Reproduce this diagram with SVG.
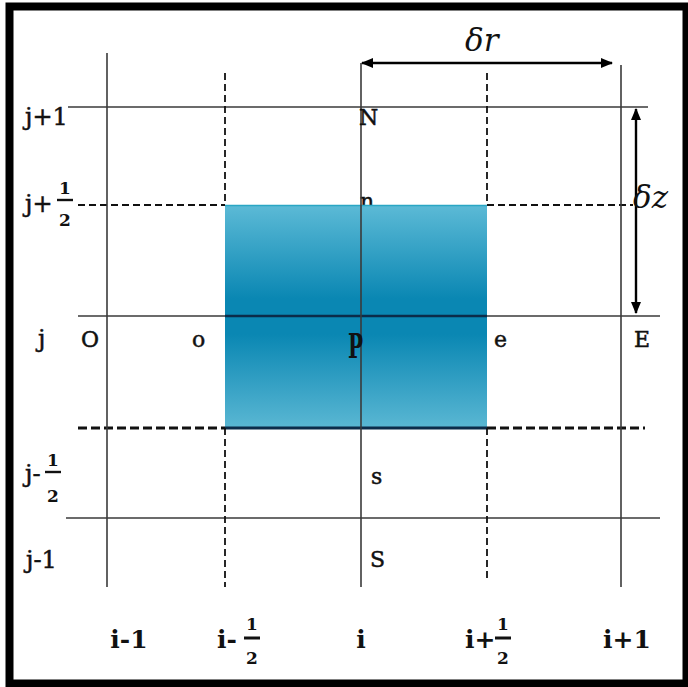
<svg xmlns="http://www.w3.org/2000/svg" width="688" height="687" viewBox="0 0 688 687">
<defs>
<linearGradient id="cell" x1="0" y1="0" x2="0" y2="1">
<stop offset="0" stop-color="#5cbad6"/>
<stop offset="0.42" stop-color="#0a87b3"/>
<stop offset="0.58" stop-color="#0a87b3"/>
<stop offset="1" stop-color="#5ab7d3"/>
</linearGradient>
<marker id="ah" viewBox="0 0 12 10" refX="11" refY="5" markerWidth="12" markerHeight="10" markerUnits="userSpaceOnUse" orient="auto-start-reverse">
<path d="M0,0 L12,5 L0,10 Z" fill="#000"/>
</marker>
<style>
.grid{stroke:#3a3a3a;stroke-width:1.6;fill:none}
.dash{stroke:#111;stroke-width:1.8;stroke-dasharray:7 4;fill:none}
.dashb{stroke:#111;stroke-width:3;stroke-dasharray:9 4;fill:none}
.dim{stroke:#000;stroke-width:2.4;fill:none}
.lbl{font-family:"DejaVu Serif","Liberation Serif",serif;font-size:24px;fill:#111;stroke:#111;stroke-width:0.5}
.pt{font-family:"DejaVu Serif","Liberation Serif",serif;font-size:22px;fill:#111;stroke:#111;stroke-width:0.5}
.bot{font-family:"DejaVu Serif","Liberation Serif",serif;font-size:25px;font-weight:bold;fill:#111}
.frac{font-family:"DejaVu Serif","Liberation Serif",serif;font-size:17px;font-weight:bold;fill:#111;text-anchor:middle}
.it{font-family:"DejaVu Serif","Liberation Serif",serif;font-size:31px;font-style:italic;fill:#111}
</style>
</defs>
<rect x="0" y="0" width="688" height="687" fill="#fff"/>
<rect x="9.5" y="6.5" width="677" height="677" fill="none" stroke="#000" stroke-width="8"/>

<g id="node-n"><text class="pt" x="360" y="209">n</text></g>

<g id="cell-P">
<rect x="225" y="205" width="262" height="223" fill="url(#cell)"/>
<line x1="225" y1="205.5" x2="487" y2="205.5" stroke="#2aa6c4" stroke-width="1.5"/>
</g>

<g id="connectors">
<line class="grid" x1="68" y1="107" x2="648" y2="107"/>
<line class="grid" x1="78" y1="316" x2="660" y2="316"/>
<line x1="225" y1="316" x2="487" y2="316" stroke="#0b2c4a" stroke-width="2.6"/>
<line class="grid" x1="66" y1="518" x2="660" y2="518"/>
<line class="dash" x1="78" y1="205" x2="225" y2="205"/>
<line class="dash" x1="487" y1="205" x2="633" y2="205"/>
<line class="dashb" x1="78" y1="428" x2="225" y2="428"/>
<line x1="225" y1="428" x2="487" y2="428" stroke="#0b2c4a" stroke-width="3"/>
<line class="dashb" x1="487" y1="428" x2="645" y2="428"/>
<line class="grid" x1="107" y1="53" x2="107" y2="587"/>
<line class="grid" x1="361" y1="63" x2="361" y2="587" stroke="#111"/>
<line class="grid" x1="621" y1="65" x2="621" y2="587"/>
<line class="dash" x1="225" y1="73" x2="225" y2="205"/>
<line class="dash" x1="225" y1="428" x2="225" y2="587"/>
<line class="dash" x1="487" y1="73" x2="487" y2="205"/>
<line class="dash" x1="487" y1="428" x2="487" y2="580"/>
<line class="dim" x1="362" y1="63" x2="612" y2="63" marker-start="url(#ah)" marker-end="url(#ah)"/>
<line class="dim" x1="636" y1="109" x2="636" y2="313" marker-start="url(#ah)" marker-end="url(#ah)"/>
</g>

<g id="label-dr"><text class="it" x="465" y="51">δr</text></g>
<g id="label-dz"><text class="it" x="633" y="208">δz</text></g>

<g id="row-j+1"><text class="lbl" x="25" y="125">j+1</text></g>
<g id="row-j+half">
<text class="lbl" x="25" y="212">j+</text>
<text class="frac" x="65" y="194">1</text>
<line x1="57" y1="200" x2="73" y2="200" stroke="#111" stroke-width="2.4"/>
<text class="frac" x="65" y="226">2</text>
</g>
<g id="row-j"><text class="lbl" x="38" y="347">j</text></g>
<g id="row-j-half">
<text class="lbl" x="25" y="482">j-</text>
<text class="frac" x="53" y="466">1</text>
<line x1="45" y1="472" x2="61" y2="472" stroke="#111" stroke-width="2.4"/>
<text class="frac" x="53" y="502">2</text>
</g>
<g id="row-j-1"><text class="lbl" x="26" y="568">j-1</text></g>

<g id="node-N"><text class="pt" x="359" y="125">N</text></g>
<g id="node-O"><text class="pt" x="81" y="347">O</text></g>
<g id="node-o"><text class="pt" x="192" y="347">o</text></g>
<g id="node-P"><text x="348" y="358" font-family="DejaVu Serif, Liberation Serif, serif" font-size="34" font-weight="bold" fill="#111" textLength="15" lengthAdjust="spacingAndGlyphs">P</text></g>
<g id="node-e"><text class="pt" x="494" y="347">e</text></g>
<g id="node-E"><text class="pt" x="634" y="347">E</text></g>
<g id="node-s"><text class="pt" x="371" y="484">s</text></g>
<g id="node-S"><text class="pt" x="370" y="567">S</text></g>

<g id="col-i-1"><text class="bot" x="129" y="648" text-anchor="middle">i-1</text></g>
<g id="col-i-half">
<text class="bot" x="217" y="648">i-</text>
<text class="frac" x="252" y="630">1</text>
<line x1="244" y1="638" x2="260" y2="638" stroke="#111" stroke-width="3"/>
<text class="frac" x="252" y="664">2</text>
</g>
<g id="col-i"><text class="bot" x="361" y="648" text-anchor="middle">i</text></g>
<g id="col-i+half">
<text class="bot" x="465" y="648">i+</text>
<text class="frac" x="503" y="630">1</text>
<line x1="495" y1="638" x2="511" y2="638" stroke="#111" stroke-width="3"/>
<text class="frac" x="503" y="664">2</text>
</g>
<g id="col-i+1"><text class="bot" x="627" y="648" text-anchor="middle">i+1</text></g>
</svg>
